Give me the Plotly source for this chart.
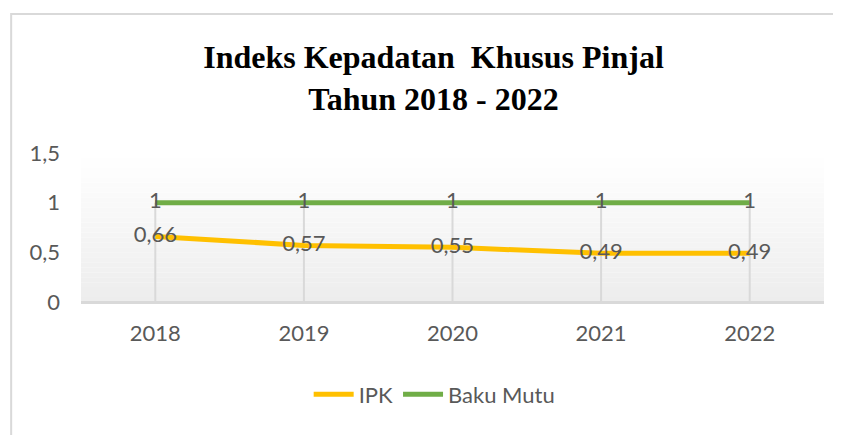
import plotly.graph_objects as go

years = ["2018", "2019", "2020", "2021", "2022"]
ipk = [0.66, 0.57, 0.55, 0.49, 0.49]
baku_mutu = [1, 1, 1, 1, 1]
y_ticks = [0, 0.5, 1, 1.5]

title_text = "Indeks Kepadatan  Khusus Pinjal<br>Tahun 2018 - 2022"

GRAY_TXT = "#595959"
GRID = "#d9d9d9"
FONT = "Lato"
FS = 22

def fmt(v):
    return f"{v:g}".replace(".", ",")

fig = go.Figure()

# drop lines from highest point to axis
dx, dy = [], []
for i, yr in enumerate(years):
    dx += [yr, yr, None]
    dy += [0, max(ipk[i], baku_mutu[i]), None]
fig.add_trace(go.Scatter(x=dx, y=dy, mode="lines", line=dict(color=GRID, width=2),
                         showlegend=False, hoverinfo="skip"))

fig.add_trace(go.Scatter(x=years, y=ipk, name="IPK", mode="lines+text",
                         line=dict(color="#FFC000", width=5),
                         text=[fmt(v) for v in ipk], textposition="middle center",
                         textfont=dict(family=FONT, size=FS, color=GRAY_TXT)))
fig.add_trace(go.Scatter(x=years, y=baku_mutu, name="Baku Mutu", mode="lines+text",
                         line=dict(color="#70AD47", width=5),
                         text=[fmt(v) for v in baku_mutu], textposition="middle center",
                         textfont=dict(family=FONT, size=FS, color=GRAY_TXT)))

# gradient plot background
shapes = []
n = 30
for k in range(n):
    t = k / (n - 1)
    c = int(round(255 - (255 - 237) * (1 - t)))
    shapes.append(dict(type="rect", xref="x domain", yref="y domain",
                       x0=0, x1=1, y0=k / n, y1=(k + 1) / n,
                       fillcolor=f"rgb({c},{c},{c})", line=dict(width=0), layer="below"))
# outer chart border
shapes.append(dict(type="rect", xref="paper", yref="paper",
                   x0=-0.094, x1=1.3, y0=-3, y1=1.933,
                   line=dict(color=GRID, width=2), fillcolor="rgba(0,0,0,0)", layer="below"))

fig.update_layout(
    width=841, height=435,
    margin=dict(l=73, r=25, t=145, b=141),
    paper_bgcolor="white", plot_bgcolor="white",
    separators=",.",
    shapes=shapes,
    title=dict(text=title_text, x=425.5 / 841, xanchor="center", xref="container",
               y=1 - 60 / 435, yanchor="top", yref="container",
               font=dict(family="Liberation Serif", size=32, color="black", weight="bold")),
    showlegend=True,
    legend=dict(orientation="h", x=0.476, xanchor="center", y=-0.62, yanchor="middle",
                font=dict(family=FONT, size=FS, color=GRAY_TXT), bgcolor="rgba(0,0,0,0)",
                itemwidth=40, tracegroupgap=0),
    xaxis=dict(type="category", range=[-0.5, 4.5], showgrid=False, zeroline=False,
               showline=False, ticks="", tickfont=dict(family=FONT, size=FS, color=GRAY_TXT),
               ticklabelstandoff=16),
    yaxis=dict(range=[0, 1.5], tickvals=y_ticks, showgrid=False, zeroline=True,
               zerolinecolor=GRID, zerolinewidth=3, showline=False, ticks="",
               tickfont=dict(family=FONT, size=FS, color=GRAY_TXT), ticklabelstandoff=20),
)

fig.write_html("out.html")
